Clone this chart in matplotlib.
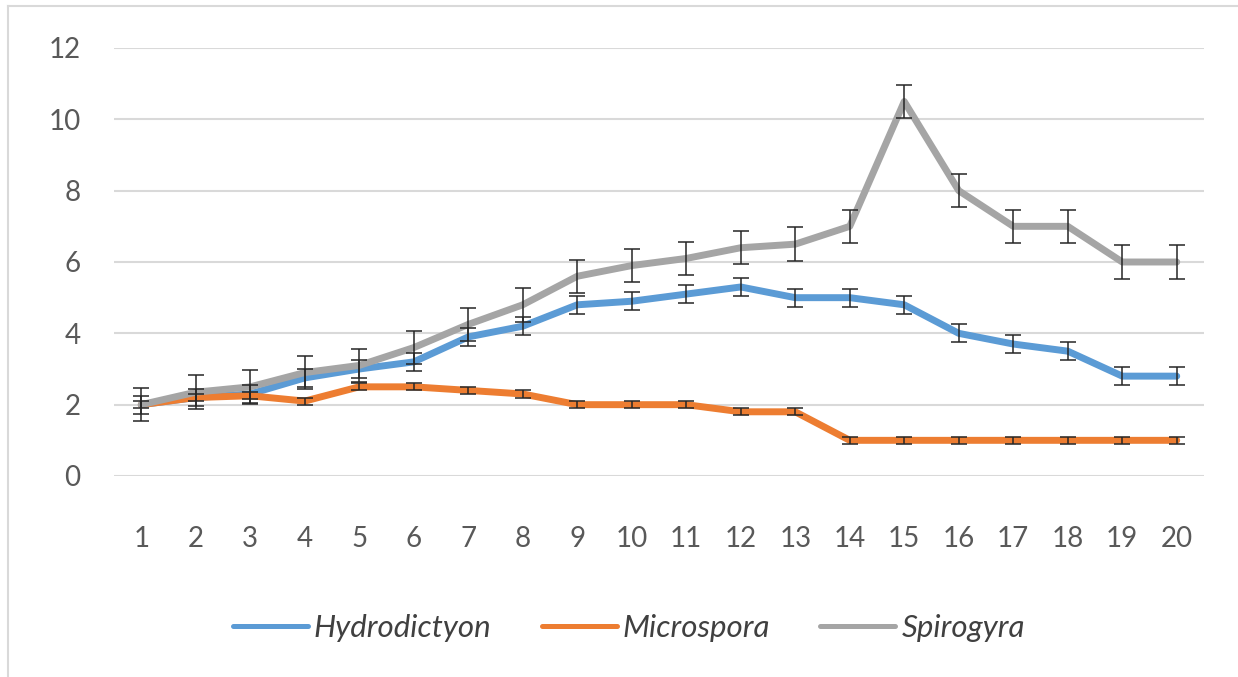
import numpy as np
import matplotlib.pyplot as plt
from matplotlib.lines import Line2D

# Datos
dias = list(range(1, 21))
hydrodictyon = [2.0, 2.2, 2.3, 2.75, 3.0, 3.2, 3.9, 4.2, 4.8, 4.9,
                5.1, 5.3, 5.0, 5.0, 4.8, 4.0, 3.7, 3.5, 2.8, 2.8]
microspora = [2.0, 2.2, 2.25, 2.1, 2.5, 2.5, 2.4, 2.3, 2.0, 2.0,
              2.0, 1.8, 1.8, 1.0, 1.0, 1.0, 1.0, 1.0, 1.0, 1.0]
spirogyra = [2.0, 2.35, 2.5, 2.9, 3.1, 3.6, 4.25, 4.8, 5.6, 5.9,
             6.1, 6.4, 6.5, 7.0, 10.5, 8.0, 7.0, 7.0, 6.0, 6.0]
err_hydro = [0.25] * 20
err_micro = [0.1] * 20
err_spiro = [0.47] * 20

nombres = ['Hydrodictyon', 'Microspora', 'Spirogyra']
colores = ['#5B9BD5', '#ED7D31', '#A5A5A5']

plt.rcParams['font.family'] = ['Lato', 'DejaVu Sans']

fig = plt.figure(figsize=(12.38, 6.77), dpi=100)
ax = fig.add_axes([114 / 1238, 1 - 476 / 677, 1090 / 1238, 428 / 677])

series = [hydrodictyon, microspora, spirogyra]
errores = [err_hydro, err_micro, err_spiro]
for valores, color, nombre in zip(series, colores, nombres):
    ax.plot(dias, valores, color=color, lw=5, label=nombre,
            solid_joinstyle='round', solid_capstyle='round', zorder=3)
for valores, err in zip(series, errores):
    ax.errorbar(dias, valores, yerr=err, fmt='none', ecolor='#262626',
                elinewidth=1.1, capsize=6, capthick=1.1, zorder=4)

ax.set_xlim(0.5, 20.5)
ax.set_ylim(0, 12)
ax.set_yticks(range(0, 13, 2))
ax.set_xticks(dias)
ax.grid(axis='y', color='#D9D9D9', lw=1.5, zorder=0)
ax.set_axisbelow(True)
for s in ax.spines.values():
    s.set_visible(False)
ax.tick_params(length=0, labelsize=20, labelcolor='#595959')
ax.tick_params(axis='x', pad=36)
ax.tick_params(axis='y', pad=24)

handles = [Line2D([], [], color=c, lw=3.6, solid_capstyle='round') for c in colores]
leg = fig.legend(handles, nombres, loc='center', bbox_to_anchor=(0.508, 1 - 628 / 677),
                 ncol=3, frameon=False, handlelength=2.4, handletextpad=0.2,
                 columnspacing=1.6, prop={'size': 22.5, 'style': 'italic'})
for t in leg.get_texts():
    t.set_color('#404040')

# Marco del gráfico (solo borde izquierdo y superior visibles)
fig.add_artist(Line2D([8 / 1238, 8 / 1238], [0, 1 - 6 / 677], transform=fig.transFigure,
                      color='#D9D9D9', lw=1.5))
fig.add_artist(Line2D([8 / 1238, 1], [1 - 6 / 677, 1 - 6 / 677], transform=fig.transFigure,
                      color='#D9D9D9', lw=1.5))

fig.savefig('out.png', dpi=100)
